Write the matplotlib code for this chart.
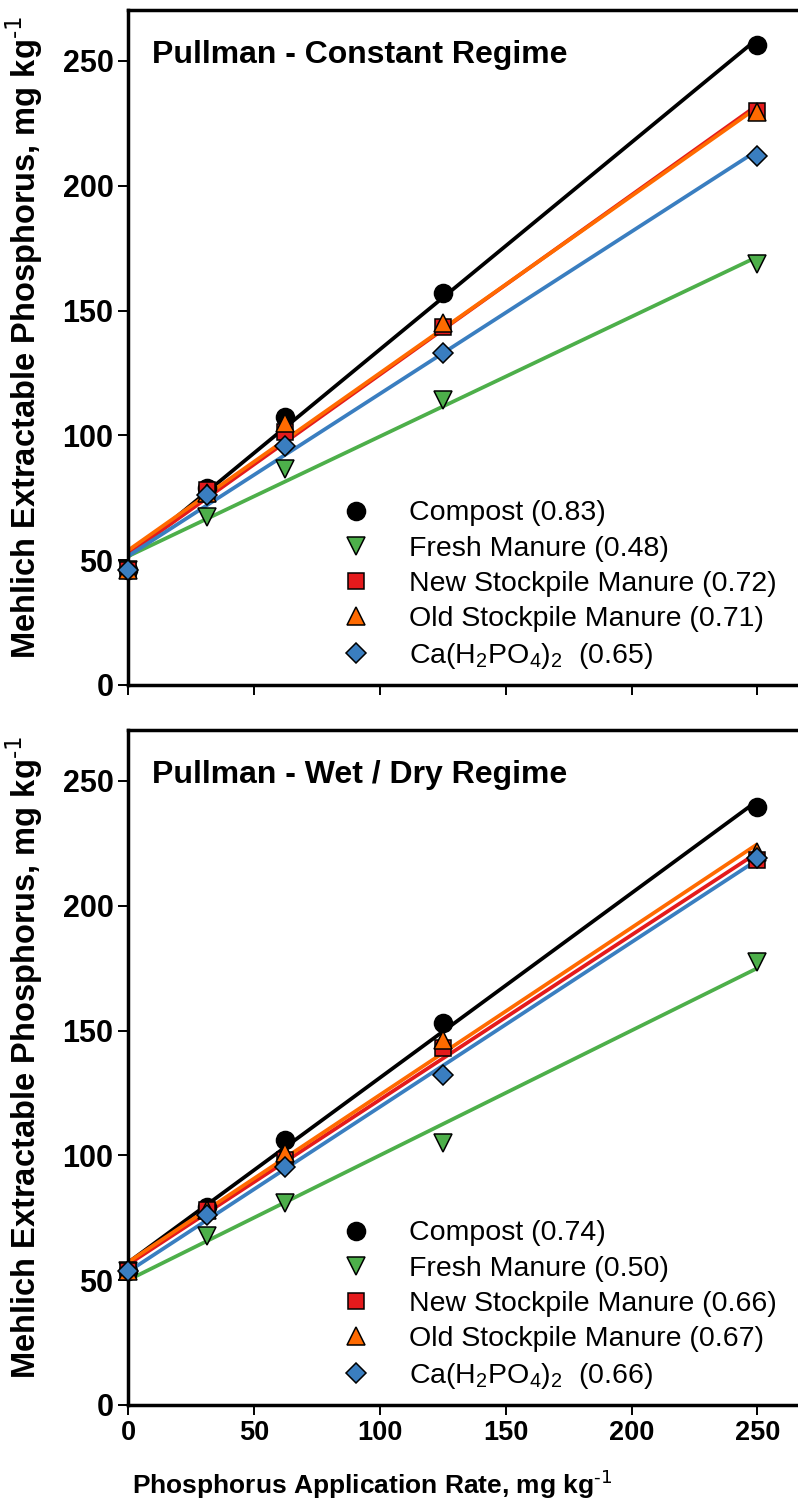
import numpy as np
import matplotlib.pyplot as plt

plt.rcParams['font.family'] = ['Liberation Sans', 'DejaVu Sans']
plt.rcParams['mathtext.default'] = 'regular'

# P application rate (mg/kg)
rate = [0, 31.25, 62.5, 125, 250]

names = ["Compost", "Fresh Manure", "New Stockpile Manure",
         "Old Stockpile Manure", r"Ca(H$_2$PO$_4$)$_2$ "]

# Mehlich-3 P, constant moisture regime
compost_c = [46, 78.8, 107.5, 157.2, 256.4]
fresh_c = [46, 67.3, 86.5, 114.2, 168.7]
new_c = [46, 78, 101.5, 143.5, 230]
old_c = [46, 77, 104.8, 145, 229.5]
capo_c = [46, 76.1, 95.8, 132.9, 212]
slope_c = [0.83, 0.48, 0.72, 0.71, 0.65]

# Mehlich-3 P, wet/dry regime
compost_w = [53.5, 79.5, 106.2, 153.2, 239.7]
fresh_w = [53.5, 67.7, 80.8, 104.8, 177.6]
new_w = [53.5, 78, 98, 142.9, 218.3]
old_w = [53.5, 78, 100.8, 146.2, 221.5]
capo_w = [53.5, 76.1, 95.5, 132.2, 219]
slope_w = [0.74, 0.50, 0.66, 0.67, 0.66]

colors = ["black", "#4DAF4A", "#E41A1C", "#FF6A00", "#3A7EC0"]
markers = ["o", "v", "s", "^", "D"]
msizes = [13, 12.5, 11.5, 12.5, 10]

W, H = 798, 1511
fig = plt.figure(figsize=(W / 100, H / 100), dpi=100)

unit = r"mg kg$^{\text{-1}}$"


def panel(top, bottom, series, slopes, title, xlabels):
    ax = fig.add_axes([128 / W, 1 - bottom / H, 1 - 128 / W + 0.01, (bottom - top) / H])
    x = np.array(rate)
    xx = np.array([0, 250])
    handles = []
    # regression lines through the data with the reported slopes
    for i, y in enumerate(series):
        y = np.array(y)
        b = y.mean() - slopes[i] * x.mean()
        ax.plot(xx, b + slopes[i] * xx, color=colors[i], lw=2.7, zorder=2,
                solid_capstyle='butt')
    for i, y in enumerate(series):
        h, = ax.plot(x, y, ls='none', marker=markers[i], ms=msizes[i],
                     mfc=colors[i], mec='black', mew=1.1, zorder=3 + i,
                     clip_on=False,
                     label="%s (%.2f)" % (names[i], slopes[i]))
        handles.append(h)
    ax.set_xlim(0, 269.3)
    ax.set_ylim(0, 270.4)
    ax.set_xticks([0, 50, 100, 150, 200, 250])
    ax.set_yticks([0, 50, 100, 150, 200, 250])
    ax.spines['right'].set_visible(False)
    for s in ['left', 'bottom', 'top']:
        ax.spines[s].set_linewidth(2.5)
    ax.tick_params(direction='out', length=7, width=1.4, labelsize=22)
    for t in ax.get_yticklabels():
        t.set_fontweight('bold')
    if xlabels:
        for t in ax.get_xticklabels():
            t.set_fontweight('bold')
            t.set_fontsize(19.5)
    else:
        ax.set_xticklabels([])
    ax.set_ylabel("Mehlich Extractable Phosphorus, " + unit,
                  fontsize=23.5, fontweight='bold')
    ax.yaxis.set_label_coords(-0.122, 0.515)
    ax.text(24 / 670, 1 - 45 / (bottom - top), title, transform=ax.transAxes,
            fontsize=23, fontweight='bold', va='center')
    ax.legend(handles=handles, loc='lower left', bbox_to_anchor=(0.295, 0.004),
              frameon=False, fontsize=20.5, handletextpad=1.24, labelspacing=0.32,
              handlelength=1.2, borderaxespad=0)
    return ax


panel(10, 685, [compost_c, fresh_c, new_c, old_c, capo_c], slope_c,
      "Pullman - Constant Regime", False)
panel(730, 1405, [compost_w, fresh_w, new_w, old_w, capo_w], slope_w,
      "Pullman - Wet / Dry Regime", True)
fig.text(372 / W, 1 - 1485 / H, "Phosphorus Application Rate, " + unit,
         fontsize=19, fontweight='bold', ha='center', va='center')

fig.savefig("out.png", dpi=100)
